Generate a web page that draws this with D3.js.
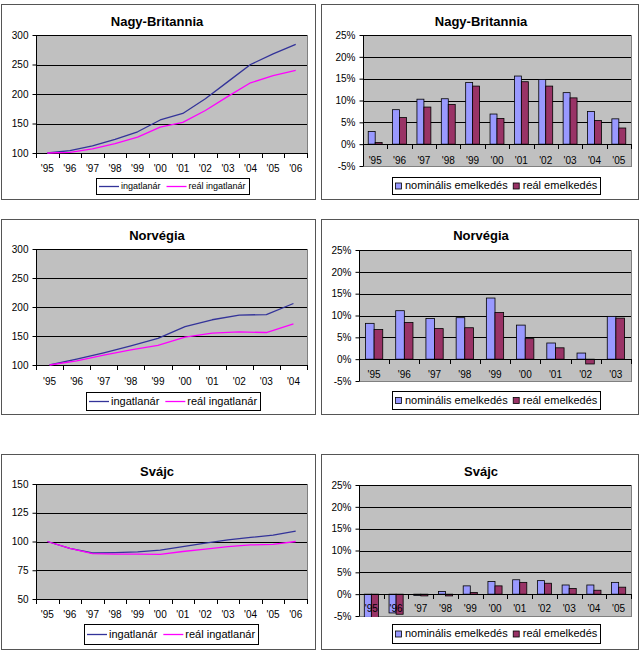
<!DOCTYPE html>
<html><head><meta charset="utf-8">
<script src="https://cdn.jsdelivr.net/npm/d3@7"></script>
<style>
body{margin:0;background:#fff}
svg{display:block}
text{font-family:"Liberation Sans",Arial,sans-serif;fill:#000}
</style>
</head><body>
<svg id="c" width="639" height="651"></svg>
<script>
// ---------- DATA ----------
const years12 = ["'95","'96","'97","'98","'99","'00","'01","'02","'03","'04","'05","'06"];
const years10 = ["'95","'96","'97","'98","'99","'00","'01","'02","'03","'04"];
const years11 = ["'95","'96","'97","'98","'99","'00","'01","'02","'03","'04","'05"];
const years9  = ["'95","'96","'97","'98","'99","'00","'01","'02","'03"];

const lineSeriesNames = ["ingatlanár","reál ingatlanár"];
const barSeriesNames = ["nominális emelkedés","reál emelkedés"];

const ukIndexNominal = [100,104,112,123,136,156,167,192,221,250,268,284];
const ukIndexReal    = [100,101,107,116,127,144,152,172,196,219,231,240];
const noIndexNominal = [100,110,121,133,146,166,178,186,187,206];
const noIndexReal    = [100,107,117,126,134,148,155,157,156,171];
const chIndexNominal = [100,94,90,90.3,91,92.5,95.5,98.5,101.5,103.5,105.5,109];
const chIndexReal    = [100,94,89.5,89,89,88.8,91.3,93.3,95.5,97,97.5,100];

const ukGrowthNominal = [2.9,7.9,10.3,10.4,14.1,6.9,15.6,14.8,11.8,7.5,5.8];
const ukGrowthReal    = [0.4,6.1,8.5,9.1,13.3,5.9,14.3,13.3,10.6,5.4,3.7];
const noGrowthNominal = [8.2,11.1,9.3,9.5,14.0,7.8,3.7,1.4,9.8];
const noGrowthReal    = [6.8,8.4,7.0,7.2,10.7,4.7,2.6,-1.1,9.4];
const chGrowthNominal = [-5.3,-4.3,-0.3,0.6,1.9,2.9,3.3,3.1,2.1,2.1,2.7];
const chGrowthReal    = [-5.5,-4.6,-0.4,-0.4,0.4,1.9,2.7,2.5,1.3,0.9,1.6];

const indexTicksWide = [100,150,200,250,300];
const indexTicksCH   = [50,75,100,125,150];
const pctTicks       = [-5,0,5,10,15,20,25];

// ---------- STYLE ----------
const LINE_COLORS = ["#333399","#ff00ff"];
const BAR_COLORS = ["#9999ff","#993366"];
const PLOT_BG = "#c0c0c0";

const svg = d3.select("#c");
let clipId = 0;

function frame(b){
  svg.append("rect").attr("x",b.x+0.5).attr("y",b.y+0.5).attr("width",b.w).attr("height",b.h)
    .attr("fill","#fff").attr("stroke","#555").attr("stroke-width",1);
}
function title(t,cx,cy){
  svg.append("text").attr("x",cx).attr("y",cy+4.6).attr("text-anchor","middle")
    .attr("font-size",13).attr("font-weight","bold").text(t);
}
function yAxis(g,y,plot,ticks,fmt){
  const ax = d3.axisLeft(y).tickValues(ticks).tickSize(4).tickPadding(4).tickFormat(fmt);
  const a = g.append("g").attr("transform",`translate(${plot.l+0.5},0)`).call(ax);
  a.select(".domain").attr("stroke","#000").attr("d",`M0,${plot.t}V${plot.b}`);
  a.selectAll(".tick line").attr("stroke","#000");
  a.selectAll(".tick text").attr("font-size",10).attr("fill","#000")
    .attr("font-family","'Liberation Sans',Arial,sans-serif");
}
function grid(g,y,plot,ticks){
  g.selectAll(null).data(ticks).join("line")
    .attr("x1",plot.l).attr("x2",plot.r)
    .attr("y1",d=>Math.round(y(d))+0.5).attr("y2",d=>Math.round(y(d))+0.5)
    .attr("stroke","#000").attr("stroke-width",1);
}
function xCats(g,x,cats,axisY,labelY){
  const bounds = cats.map(c=>x(c)).concat([x.range()[1]]);
  g.append("line").attr("x1",x.range()[0]).attr("x2",x.range()[1])
    .attr("y1",Math.round(axisY)+0.5).attr("y2",Math.round(axisY)+0.5).attr("stroke","#000");
  g.selectAll(null).data(bounds).join("line")
    .attr("x1",d=>Math.round(d)+0.5).attr("x2",d=>Math.round(d)+0.5)
    .attr("y1",Math.round(axisY)).attr("y2",Math.round(axisY)+5).attr("stroke","#000");
  g.selectAll(null).data(cats).join("text")
    .attr("x",d=>x(d)+x.bandwidth()/2).attr("y",labelY+3.6)
    .attr("text-anchor","middle").attr("font-size",10).text(d=>d);
}
function legend(lg,items,kind){
  const g = svg.append("g");
  const box = g.append("rect").attr("fill","#fff").attr("stroke","#000").attr("stroke-width",1);
  let xx = 0;
  const parts = [];
  items.forEach((it,i)=>{
    if(kind==="line"){
      const l = g.append("line").attr("stroke",it.color).attr("stroke-width",1.3);
      parts.push({el:l,type:"line",x:xx}); xx += 20;
      xx += 2;
    } else {
      const r = g.append("rect").attr("width",6).attr("height",6).attr("fill",it.color)
        .attr("stroke","#000").attr("stroke-width",0.8);
      parts.push({el:r,type:"sq",x:xx}); xx += 7;
      xx += 3;
    }
    const t = g.append("text").attr("font-size",lg.fs).text(it.name);
    const w = t.node().getComputedTextLength();
    parts.push({el:t,type:"text",x:xx}); xx += w;
    if(i<items.length-1) xx += (kind==="line"?6:5);
  });
  const pad = 3;
  const total = xx + pad*2;
  const x0 = Math.round(lg.cx - total/2);
  const cy = lg.y + lg.h/2;
  box.attr("x",x0+0.5).attr("y",lg.y+0.5).attr("width",Math.round(total)).attr("height",lg.h);
  parts.forEach(p=>{
    const px = x0+pad+p.x;
    if(p.type==="line") p.el.attr("x1",px).attr("x2",px+20).attr("y1",cy+0.5).attr("y2",cy+0.5);
    else if(p.type==="sq") p.el.attr("x",px+0.5).attr("y",cy-2.5);
    else p.el.attr("x",px).attr("y",cy+lg.fs*0.36);
  });
}

function linePanel(c){
  frame(c.box);
  title(c.title,c.titleX,c.titleY);
  const g = svg.append("g");
  const p = c.plot;
  const x = d3.scaleBand().domain(c.cats).range([p.l,p.r]).padding(0);
  const y = d3.scaleLinear().domain([c.ticks[0],c.ticks[c.ticks.length-1]]).range([p.b,p.t]);
  g.append("rect").attr("x",p.l+0.5).attr("y",p.t+0.5).attr("width",p.r-p.l).attr("height",p.b-p.t)
    .attr("fill",PLOT_BG).attr("stroke","#808080");
  grid(g,y,p,c.ticks.slice(1));
  yAxis(g,y,p,c.ticks,d3.format("d"));
  xCats(g,x,c.cats,p.b,c.labelY);
  const line = d3.line().x((d,i)=>x(c.cats[i])+x.bandwidth()/2).y(d=>y(d));
  c.series.forEach((s,i)=>{
    g.append("path").datum(s).attr("d",line).attr("fill","none")
      .attr("stroke",LINE_COLORS[i]).attr("stroke-width",1.3).attr("stroke-linejoin","round");
  });
  legend(c.legend,lineSeriesNames.map((n,i)=>({name:n,color:LINE_COLORS[i]})),"line");
}

function barPanel(c){
  frame(c.box);
  title(c.title,c.titleX,c.titleY);
  const g = svg.append("g");
  const p = c.plot;
  const x = d3.scaleBand().domain(c.cats).range([p.l,p.r]).padding(0);
  const y = d3.scaleLinear().domain([c.ticks[0],c.ticks[c.ticks.length-1]]).range([p.b,p.t]);
  g.append("rect").attr("x",p.l+0.5).attr("y",p.t+0.5).attr("width",p.r-p.l).attr("height",p.b-p.t)
    .attr("fill",PLOT_BG).attr("stroke","#808080");
  grid(g,y,p,c.ticks.filter(t=>t>0));
  const id = "clip"+(clipId++);
  svg.append("clipPath").attr("id",id).append("rect")
    .attr("x",p.l).attr("y",p.t).attr("width",p.r-p.l).attr("height",p.b-p.t+1);
  const bars = g.append("g").attr("clip-path",`url(#${id})`);
  const bw = x.bandwidth()/3.5;
  c.series.forEach((s,si)=>{
    bars.selectAll(null).data(s).join("rect")
      .attr("x",(d,i)=>x(c.cats[i])+0.75*bw+si*bw)
      .attr("width",bw)
      .attr("y",d=>Math.min(y(d),y(0)))
      .attr("height",d=>Math.abs(y(d)-y(0)))
      .attr("fill",BAR_COLORS[si]).attr("stroke","#000").attr("stroke-width",0.8);
  });
  yAxis(g,y,p,c.ticks,d=>d+"%");
  xCats(g,x,c.cats,y(0),c.labelY);
  legend(c.legend,barSeriesNames.map((n,i)=>({name:n,color:BAR_COLORS[i]})),"bar");
}

// ---------- PANELS ----------
linePanel({box:{x:1,y:4,w:314,h:195},title:"Nagy-Britannia",titleX:157,titleY:21,
  plot:{l:36,r:307,t:35,b:153},cats:years12,ticks:indexTicksWide,labelY:168,
  series:[ukIndexNominal,ukIndexReal],legend:{cx:172,y:178,h:16,fs:9}});
barPanel({box:{x:321,y:4,w:317,h:195},title:"Nagy-Britannia",titleX:481,titleY:21,
  plot:{l:363,r:631,t:35,b:166},cats:years11,ticks:pctTicks,labelY:160,
  series:[ukGrowthNominal,ukGrowthReal],legend:{cx:496,y:177,h:17,fs:11}});

linePanel({box:{x:1,y:219,w:314,h:195},title:"Norvégia",titleX:157,titleY:235,
  plot:{l:36,r:307,t:249,b:365},cats:years10,ticks:indexTicksWide,labelY:381,
  series:[noIndexNominal,noIndexReal],legend:{cx:173,y:392,h:18,fs:11}});
barPanel({box:{x:321,y:219,w:317,h:195},title:"Norvégia",titleX:481,titleY:235,
  plot:{l:359,r:631,t:250,b:381},cats:years9,ticks:pctTicks,labelY:374,
  series:[noGrowthNominal,noGrowthReal],legend:{cx:496,y:391,h:18,fs:11}});

linePanel({box:{x:1,y:454,w:314,h:195},title:"Svájc",titleX:157,titleY:471,
  plot:{l:36,r:307,t:484,b:599},cats:years12,ticks:indexTicksCH,labelY:614,
  series:[chIndexNominal,chIndexReal],legend:{cx:171,y:624,h:20,fs:11}});
barPanel({box:{x:321,y:454,w:317,h:195},title:"Svájc",titleX:481,titleY:471,
  plot:{l:359,r:631,t:485,b:616},cats:years11,ticks:pctTicks,labelY:608,
  series:[chGrowthNominal,chGrowthReal],legend:{cx:496,y:624,h:19,fs:11}});
</script>
</body></html>
